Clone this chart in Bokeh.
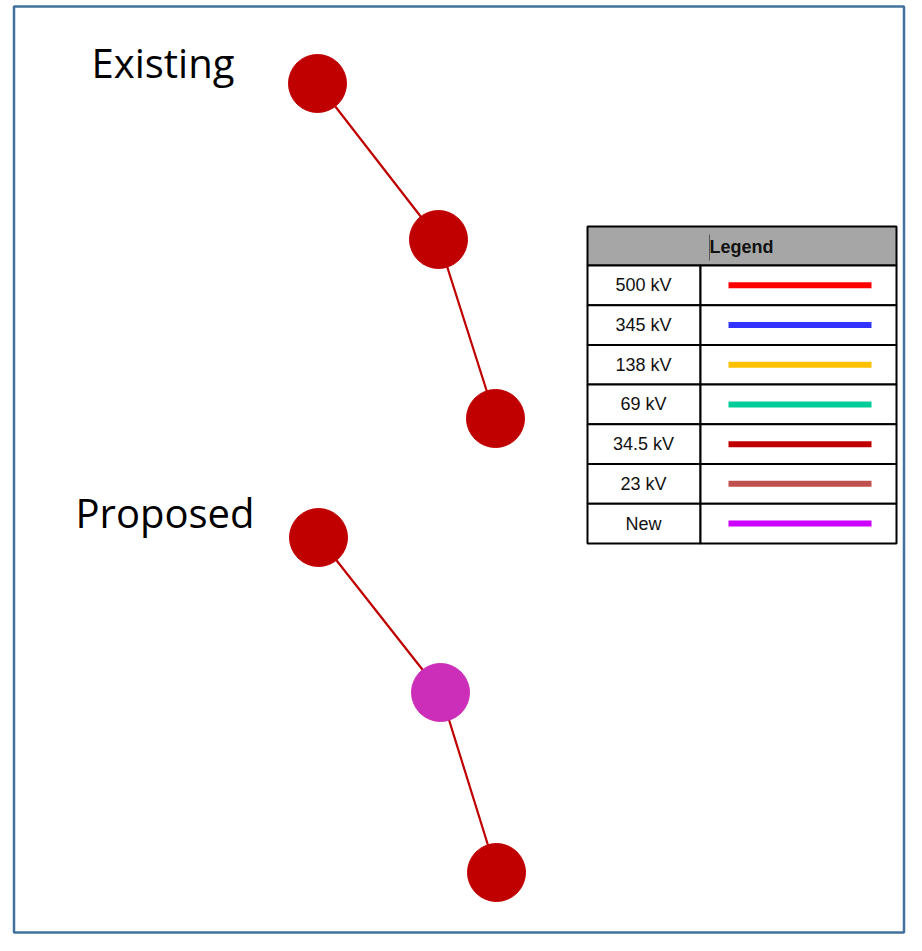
from bokeh.plotting import figure
from bokeh.models import Range1d, ColumnDataSource
from bokeh.core.properties import value
from bokeh.embed import file_html
from bokeh.resources import INLINE

# ---- data ----
group_titles = ["Existing", "Proposed"]
existing_x = [317, 438, 495]
existing_y = [83, 239, 418]
existing_colors = ["#C00000", "#C00000", "#C00000"]
proposed_x = [318, 440, 496]
proposed_y = [537, 692, 872]
proposed_colors = ["#C00000", "#CC2EB9", "#C00000"]

legend_labels = ["500 kV", "345 kV", "138 kV", "69 kV", "34.5 kV", "23 kV", "New"]
legend_colors = ["#FF0000", "#3333FF", "#FFC000", "#00CC99", "#C00000", "#C0504D", "#CC00FF"]

# ---- figure (data units = screen pixels) ----
p = figure(width=906, height=935, output_backend="svg", toolbar_location=None,
           x_range=Range1d(0, 906), y_range=Range1d(935, 0),
           min_border=0)
p.axis.visible = False
p.grid.visible = False
p.outline_line_color = None
p.background_fill_color = "white"

# outer frame
p.quad(left=[13.5], right=[903.5], top=[6], bottom=[932], fill_color=None,
       line_color="#41719C", line_width=2.5)

# group titles
p.text(x=[91, 75], y=[62, 512], text=group_titles, text_font=value("Open Sans"),
       text_font_size="40px", text_color="black", text_baseline="middle")

# network lines + nodes
for xs, ys, cols in [(existing_x, existing_y, existing_colors),
                     (proposed_x, proposed_y, proposed_colors)]:
    p.line(xs, ys, line_color="#C00000", line_width=2.2)
    p.scatter(xs, ys, size=58, fill_color=cols, line_color=cols, line_width=1)

# legend table
L, M, R = 587, 700, 896
top, head_h, row_h = 226, 39, 39.7
p.quad(left=[L], right=[R], top=[top], bottom=[top + head_h],
       fill_color="#A6A6A6", line_color="black", line_width=2)
n = len(legend_labels)
tops = [top + head_h + i * row_h for i in range(n)]
bots = [t + row_h for t in tops]
mids = [(t + b) / 2 for t, b in zip(tops, bots)]
src = ColumnDataSource(dict(t=tops, b=bots, m=mids, lab=legend_labels, col=legend_colors,
                            lx=[643] * n, sx0=[728] * n, sx1=[871] * n))
p.quad(left=L, right=M, top="t", bottom="b", source=src, fill_color="white",
       line_color="black", line_width=2)
p.quad(left=M, right=R, top="t", bottom="b", source=src, fill_color="white",
       line_color="black", line_width=2)
p.segment(x0="sx0", x1="sx1", y0="m", y1="m", source=src, line_color="col", line_width=6)
p.text(x="lx", y="m", text="lab", source=src, text_font=value("Liberation Sans"),
       text_font_size="18px", text_align="center", text_baseline="middle", text_color="#111111")
p.text(x=[741], y=[top + head_h / 2 + 1], text=["Legend"], text_font=value("Liberation Sans"),
       text_font_style="bold", text_font_size="18px", text_align="center",
       text_baseline="middle", text_color="#111111")
p.segment(x0=[709], x1=[709], y0=[234], y1=[260], line_color="#555555", line_width=1)

open("out.html", "w").write(file_html(p, INLINE))
